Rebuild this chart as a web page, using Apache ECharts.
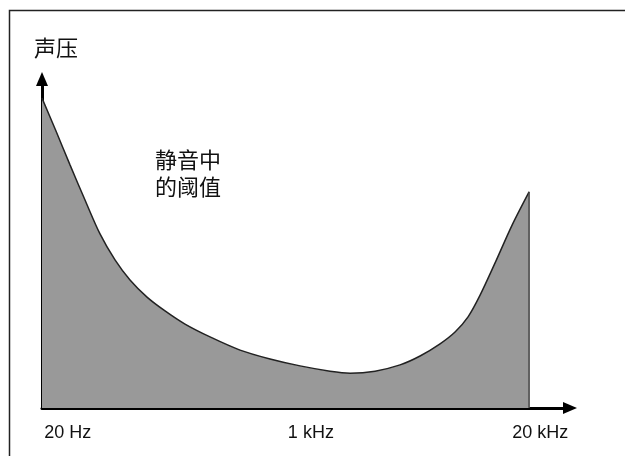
<!DOCTYPE html>
<html>
<head>
<meta charset="utf-8">
<script src="https://cdn.jsdelivr.net/npm/echarts@6/dist/echarts.min.js"></script>
<style>
html,body{margin:0;padding:0;background:#fff;}
#chart{width:625px;height:456px;}
</style>
</head>
<body>
<div id="chart"></div>
<script>
// Curve position along the frequency axis (0 = 20 Hz, 100 = 20 kHz, arbitrary units)
const curveX = [0, 2.87, 5.75, 8.83, 11.91, 14.99, 18.07, 21.56, 25.26, 29.36, 34.50, 40.66, 46.82, 52.98, 59.14, 63.24, 68.38, 73.51, 77.62, 81.72, 84.80, 87.47, 89.94, 93.02, 96.51, 100];
// Sound pressure of the threshold in quiet (arbitrary units)
const curveY = [94.2, 84.2, 73.9, 63.2, 52.9, 45.0, 38.9, 33.7, 29.5, 25.5, 21.6, 17.6, 14.9, 12.8, 11.2, 10.6, 11.2, 13.1, 15.8, 19.5, 23.1, 27.7, 34.3, 44.1, 55.6, 65.7];
// Frequency tick labels and their positions on the axis
const tickValues = [5.3, 55.2, 102.3];
const tickLabels = ['20 Hz', '1 kHz', '20 kHz'];
const yAxisName = '声压';
const annotation = '静音中\n的阈值';

const curveData = curveX.map((x, i) => [x, curveY[i]]);
const edgeData = [[curveX[curveX.length - 1], curveY[curveY.length - 1]], [curveX[curveX.length - 1], 0]];

const chart = echarts.init(document.getElementById('chart'), null, {renderer: 'canvas'});
chart.setOption({
  animation: false,
  backgroundColor: '#ffffff',
  grid: {left: 42, right: 55, top: 79, bottom: 48},
  xAxis: {
    type: 'value', min: 0, max: 108.4,
    splitLine: {show: false},
    axisTick: {show: false},
    axisLine: {show: true, lineStyle: {color: '#000', width: 3}, symbol: ['none', 'triangle'], symbolSize: [12, 14]},
    axisLabel: {
      customValues: tickValues,
      margin: 16,
      color: '#111',
      fontFamily: 'Liberation Sans, Arial, sans-serif',
      fontSize: 18,
      formatter: function (v) {
        let best = 0;
        for (let i = 0; i < tickValues.length; i++) {
          if (Math.abs(tickValues[i] - v) < Math.abs(tickValues[best] - v)) best = i;
        }
        return tickLabels[best];
      }
    }
  },
  yAxis: {
    type: 'value', min: 0, max: 100,
    name: yAxisName,
    nameLocation: 'end',
    nameGap: 20,
    nameTextStyle: {color: '#111', fontSize: 22, fontFamily: 'Noto Sans CJK SC', align: 'left', padding: [0, 0, 0, -8]},
    splitLine: {show: false},
    axisTick: {show: false},
    axisLabel: {show: false},
    axisLine: {show: true, lineStyle: {color: '#000', width: 3}, symbol: ['none', 'triangle'], symbolSize: [12, 14]}
  },
  graphic: [
    {type: 'rect', silent: true, z: 100, shape: {x: 9.5, y: 10.5, width: 800, height: 800}, style: {fill: 'none', stroke: '#222', lineWidth: 1.5}},
    {type: 'text', x: 155, y: 146, z: 100, style: {text: annotation, fill: '#111', font: '22px "Noto Sans CJK SC"', lineHeight: 27, verticalAlign: 'top', align: 'left'}}
  ],
  series: [
    {
      type: 'line', data: curveData, smooth: 0.3, symbol: 'none', z: 2,
      lineStyle: {color: '#222', width: 1.5},
      areaStyle: {color: '#999999', opacity: 1}
    },
    {
      type: 'line', data: edgeData, symbol: 'none', z: 3,
      lineStyle: {color: '#444', width: 1.5}
    }
  ]
});
</script>
</body>
</html>
